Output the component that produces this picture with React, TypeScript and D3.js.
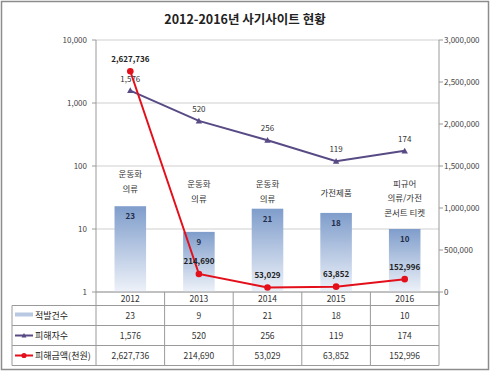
import React from "react";
import * as d3 from "d3";

const years = ["2012", "2013", "2014", "2015", "2016"];
const cases = [23, 9, 21, 18, 10];
const victims = [1576, 520, 256, 119, 174];
const damage = [2627736, 214690, 53029, 63852, 152996];
const categoryNotes = [
  ["운동화", "의류"],
  ["운동화", "의류"],
  ["운동화", "의류"],
  ["가전제품"],
  ["피규어", "의류/가전", "콘서트 티켓"],
];
const leftTicks = [1, 10, 100, 1000, 10000];
const rightTicks = [0, 500000, 1000000, 1500000, 2000000, 2500000, 3000000];
const seriesNames = ["적발건수", "피해자수", "피해금액(천원)"];
const title = "2012-2016년 사기사이트 현황";

const W = 491;
const H = 379;
const L = 96;
const R = 439;
const T = 40;
const B = 292;
const FONT = "'Noto Sans CJK KR', 'Noto Sans', sans-serif";
const noteBottom = [188, 198, 198, 192, 212];

export default function App() {
  const x = d3.scaleBand<string>().domain(years).range([L, R]);
  const yL = d3.scaleLog().domain([1, 10000]).range([B, T]);
  const yR = d3.scaleLinear().domain([0, 3000000]).range([B, T]);
  const fmt = d3.format(",");
  const cx = (y: string) => (x(y) as number) + x.bandwidth() / 2;
  const barW = x.bandwidth() * 0.46;

  const victimLine = d3
    .line<number>()
    .x((_, i) => cx(years[i]))
    .y((d) => yL(d));
  const damageLine = d3
    .line<number>()
    .x((_, i) => cx(years[i]))
    .y((d) => yR(d));

  const rowTop = [B, 305.5, 325.5, 345.5, 365.5];
  const tableLeft = 12;
  const tri = (px: number, py: number, s: number) =>
    `M${px},${py - s}L${px + s},${py + s * 0.8}L${px - s},${py + s * 0.8}Z`;

  return (
    <svg
      width={W}
      height={H}
      style={{ position: "absolute", left: 0, top: 0, background: "#fff" }}
      fontFamily={FONT}
    >
      <defs>
        <linearGradient id="barGrad" x1="0" y1="0" x2="0" y2="1">
          <stop offset="0%" stopColor="#7f9dcb" />
          <stop offset="100%" stopColor="#eef2f9" />
        </linearGradient>
      </defs>
      <rect x={1.5} y={1.5} width={487} height={368} fill="#fff" stroke="#8c8c8c" strokeWidth={1.5} />
      <text x={245} y={24} textAnchor="middle" fontSize={12.5} fontWeight="bold" fill="#222">
        {title}
      </text>

      {/* gridlines */}
      {leftTicks.map((t) => (
        <line key={"g" + t} x1={L} x2={R} y1={yL(t)} y2={yL(t)} stroke="#cfcfcf" strokeWidth={1} />
      ))}
      {/* left axis */}
      <line x1={L} x2={L} y1={T} y2={rowTop[1]} stroke="#9a9a9a" />
      {leftTicks.map((t) => (
        <g key={"lt" + t}>
          <line x1={L - 4} x2={L} y1={yL(t)} y2={yL(t)} stroke="#9a9a9a" />
          <text x={87} y={yL(t) + 3} textAnchor="end" fontSize={8} fill="#444">
            {fmt(t)}
          </text>
        </g>
      ))}
      {/* right axis */}
      <line x1={R} x2={R} y1={T} y2={rowTop[1]} stroke="#9a9a9a" />
      {rightTicks.map((t) => (
        <g key={"rt" + t}>
          <line x1={R} x2={R + 4} y1={yR(t)} y2={yR(t)} stroke="#9a9a9a" />
          <text x={R + 5} y={yR(t) + 3} textAnchor="start" fontSize={8} fill="#444">
            {fmt(t)}
          </text>
        </g>
      ))}

      {/* bars */}
      {cases.map((v, i) => (
        <g key={"b" + i}>
          <rect
            x={cx(years[i]) - barW / 2}
            y={yL(v)}
            width={barW}
            height={B - yL(v)}
            fill="url(#barGrad)"
          />
          <text x={cx(years[i])} y={yL(v) + 13} textAnchor="middle" fontSize={8} fontWeight="bold" fill="#1f2d4a">
            {v}
          </text>
        </g>
      ))}

      {/* category notes */}
      {categoryNotes.map((lines, i) => (
        <g key={"n" + i}>
          {lines.map((s, j) => (
            <text
              key={j}
              x={cx(years[i])}
              y={noteBottom[i] + 3.5 - (lines.length - 1 - j) * 14.5}
              textAnchor="middle"
              fontSize={8.5}
              fill="#333"
            >
              {s}
            </text>
          ))}
        </g>
      ))}

      {/* victims line */}
      <path d={victimLine(victims) || ""} fill="none" stroke="#584a85" strokeWidth={2} />
      {victims.map((v, i) => (
        <g key={"v" + i}>
          <path d={tri(cx(years[i]), yL(v), 3.2)} fill="#584a85" />
          <text x={cx(years[i])} y={yL(v) - 9} textAnchor="middle" fontSize={8} fill="#333">
            {fmt(v)}
          </text>
        </g>
      ))}

      {/* damage line */}
      <path d={damageLine(damage) || ""} fill="none" stroke="#e3101b" strokeWidth={2} />
      {damage.map((v, i) => (
        <g key={"d" + i}>
          <circle cx={cx(years[i])} cy={yR(v)} r={3.3} fill="#e3101b" />
          <text x={cx(years[i])} y={yR(v) - 9.5} textAnchor="middle" fontSize={8} fontWeight="bold" fill="#222">
            {fmt(v)}
          </text>
        </g>
      ))}

      {/* data table */}
      <line x1={L} x2={R} y1={B} y2={B} stroke="#9a9a9a" />
      {years.map((y, i) => (
        <g key={"c" + i}>
          <line x1={(x(y) as number) + x.bandwidth()} x2={(x(y) as number) + x.bandwidth()} y1={B} y2={rowTop[4]} stroke="#9a9a9a" />
          <text x={cx(y)} y={rowTop[0] + 10} textAnchor="middle" fontSize={8.5} fill="#333">
            {y}
          </text>
        </g>
      ))}
      {[1, 2, 3, 4].map((r) => (
        <line key={"h" + r} x1={tableLeft} x2={R} y1={rowTop[r]} y2={rowTop[r]} stroke="#9a9a9a" />
      ))}
      <line x1={tableLeft} x2={tableLeft} y1={rowTop[1]} y2={rowTop[4]} stroke="#9a9a9a" />
      <line x1={L} x2={L} y1={rowTop[1]} y2={rowTop[4]} stroke="#9a9a9a" />
      {[cases, victims, damage].map((row, r) => (
        <g key={"r" + r}>
          {row.map((v, i) => (
            <text key={i} x={cx(years[i])} y={rowTop[r + 1] + 13.5} textAnchor="middle" fontSize={8.5} fill="#333">
              {fmt(v)}
            </text>
          ))}
          <text x={35} y={rowTop[r + 1] + 13.5} fontSize={9} fill="#222">
            {seriesNames[r]}
          </text>
        </g>
      ))}
      {/* legend keys */}
      <rect x={15} y={rowTop[1] + 7} width={18} height={4} fill="#b8c8e2" />
      <line x1={15} x2={33} y1={rowTop[2] + 10} y2={rowTop[2] + 10} stroke="#584a85" strokeWidth={2} />
      <path d={tri(24, rowTop[2] + 10, 2.5)} fill="#584a85" />
      <line x1={15} x2={33} y1={rowTop[3] + 10} y2={rowTop[3] + 10} stroke="#e3101b" strokeWidth={2} />
      <circle cx={24} cy={rowTop[3] + 10} r={2.6} fill="#e3101b" />
    </svg>
  );
}
